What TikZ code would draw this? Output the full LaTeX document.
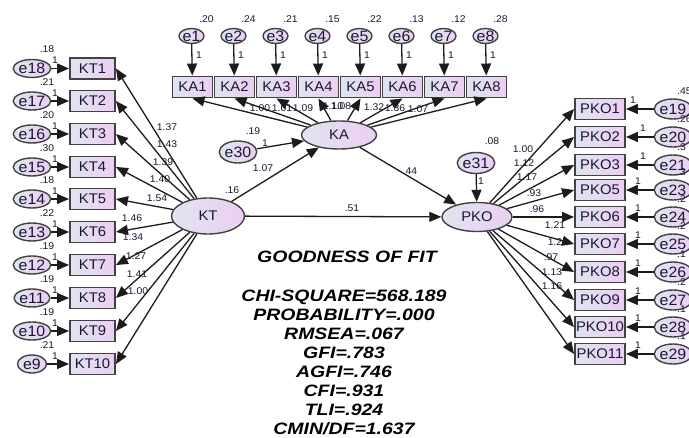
\documentclass[tikz,border=0pt]{standalone}
\usepackage{fontspec}
\setmainfont{Liberation Sans}[FakeStretch=1.06]
\newfontfamily\fitfont{Liberation Sans}[FakeStretch=1.18]
\usetikzlibrary{shapes.geometric,arrows.meta}
\definecolor{fillL}{RGB}{224,228,240}
\definecolor{fillR}{RGB}{236,206,242}
\definecolor{edge}{RGB}{66,66,66}
\definecolor{ink}{RGB}{28,28,28}
\definecolor{txt}{RGB}{24,24,52}
\begin{document}
\begin{tikzpicture}[x=1pt,y=-1pt,
  obs/.style={rectangle, draw=edge, line width=1.9pt, left color=fillL, right color=fillR,
    minimum height=21pt, inner sep=0pt, text=txt, font=\fontsize{14}{16}\selectfont},
  lat/.style={ellipse, draw=edge, line width=1.4pt, left color=fillL, right color=fillR,
    inner sep=0pt, text=txt, font=\fontsize{14}{16}\selectfont},
  err/.style={ellipse, draw=edge, line width=1.4pt, left color=fillL, right color=fillR,
    inner sep=0pt, text=txt, font=\fontsize{15}{17}\selectfont},
  lbl/.style={inner sep=0pt, text=txt, font=\fontsize{9.8}{11}\selectfont},
  conn/.style={draw=ink, line width=1.3pt, -{Triangle[length=12pt,width=10pt]}},
  fitstyle/.style={inner sep=0pt, text=black, font=\fitfont\bfseries\itshape\fontsize{16.5}{19.1}\selectfont, align=center}
]
\fill[white] (0,0) rectangle (689,438);
\useasboundingbox (0,0) rectangle (689,438);
\clip (0,0) rectangle (689,438);

% ---------- latent variables ----------
\node[lat, minimum width=75pt, minimum height=28pt] (KA) at (339,135) {KA};
\node[lat, minimum width=73pt, minimum height=36pt] (KT) at (208,216) {KT};
\node[lat, minimum width=70pt, minimum height=29pt] (PKO) at (477,217) {PKO};
\node[err, minimum width=29pt, minimum height=22pt] (e30) at (238,152) {e30};
\node[err, minimum width=31pt, minimum height=21pt] (e31) at (476,163) {e31};

% ---------- top: KA indicators ----------
\foreach \i/\v in {1/.20,2/.24,3/.21,4/.15,5/.22,6/.13,7/.12,8/.28} {
  \pgfmathsetmacro\xx{192.5+42*(\i-1)}
  \node[obs, minimum width=40pt] (ka\i) at (\xx,87) {KA\i};
  \node[err, minimum width=24pt, minimum height=15pt] (e\i) at (\xx-1,36) {e\i};
  \node[lbl] at (\xx+14,19) {\v};
  \node[lbl] at (\xx+6.5,55) {1};
  \draw[conn] (e\i) -- (ka\i);
}

% ---------- left: KT indicators ----------
\foreach \i/\n/\y/\v in {1/18/68.5/.18, 2/17/101/.21, 3/16/134/.20, 4/15/167/.30, 5/14/199/.18,
                        6/13/232/.22, 7/12/265/.19, 8/11/298/.19, 9/10/331/.19, 10/9/364/.21} {
  \node[obs, minimum width=45pt] (kt\i) at (92.5,\y) {KT\i};
  \node[err, minimum width=29pt, minimum height=18pt] (e\n) at (32,\y) {e\n};
  \node[lbl] at (47,\y-19) {\v};
  \node[lbl] at (55,\y-8) {1};
  \draw[conn] (e\n) -- (kt\i);
}

% ---------- right: PKO indicators ----------
\foreach \k/\n/\y/\v/\lx in {1/19/109/.45/633, 2/20/137/.26/643, 3/21/165/.3/643, 5/23/190/.3/638,
                            6/24/217/.2/638, 7/25/244/.2/638, 8/26/272/.1/638, 9/27/300/.2/638,
                            10/28/327/.1/638, 11/29/354/.1/638} {
  \node[obs, minimum width=50pt] (pko\k) at (600,\y) {PKO\k};
  \node[err, minimum width=34pt, minimum height=20pt] (e\n) at (673,\y) {e\n};
  \node[lbl, anchor=west] at (677,\y-18) {\v};
  \node[lbl] at (\lx,\y-9) {1};
  \draw[conn] (e\n) -- (pko\k);
}

% ---------- coefficient labels ----------
\node[lbl] at (167,127) {1.37};
\node[lbl] at (167,144) {1.43};
\node[lbl] at (163,162) {1.39};
\node[lbl] at (160,179) {1.40};
\node[lbl] at (157,198) {1.54};
\node[lbl] at (132,218) {1.46};
\node[lbl] at (133,237) {1.34};
\node[lbl] at (136,256) {1.27};
\node[lbl] at (137,274) {1.41};
\node[lbl] at (138,291) {1.00};

\node[lbl] at (260,108) {1.00};
\node[lbl] at (282,108) {1.01};
\node[lbl] at (303,108) {1.09};
\node[lbl] at (333,106) {1.10};
\node[lbl] at (341,106) {1.08};
\node[lbl] at (374,107) {1.32};
\node[lbl] at (395,108) {1.36};
\node[lbl] at (418,109) {1.07};

\node[lbl] at (523,149) {1.00};
\node[lbl] at (524,163) {1.12};
\node[lbl] at (527,177) {1.17};
\node[lbl] at (534,193) {.93};
\node[lbl] at (537,209) {.96};
\node[lbl] at (555,225) {1.21};
\node[lbl] at (555,242) {1.2};
\node[lbl] at (551,257) {.97};
\node[lbl] at (552,272) {1.13};
\node[lbl] at (552,286) {1.16};

\node[lbl] at (253,131) {.19};
\node[lbl] at (265,143) {1};
\node[lbl] at (232,190) {.16};
\node[lbl] at (263,168) {1.07};
\node[lbl] at (492,141) {.08};
\node[lbl] at (481,181) {1};
\node[lbl] at (352,208) {.51};
\node[lbl] at (410,171) {.44};

% ---------- structural paths ----------
\foreach \i in {1,...,8} { \draw[conn] (KA) -- (ka\i.south); }
\foreach \i in {1,...,10} { \draw[conn] (KT) -- (kt\i.east); }
\foreach \k in {1,2,3,5,6,7,8,9,10,11} { \draw[conn] (PKO) -- (pko\k.west); }
\draw[conn] (e30) -- (KA);
\draw[conn] (KT) -- (KA);
\draw[conn] (KT) -- (PKO);
\draw[conn] (KA) -- (PKO);
\draw[conn] (e31) -- (PKO);

% ---------- fit statistics ----------
\node[fitstyle] (gof) at (347,257) {GOODNESS OF FIT};
\node[fitstyle] (stats) at (344,362.5) {CHI-SQUARE=568.189\\PROBABILITY=.000\\RMSEA=.067\\GFI=.783\\AGFI=.746\\CFI=.931\\TLI=.924\\CMIN/DF=1.637};
\end{tikzpicture}
\end{document}
